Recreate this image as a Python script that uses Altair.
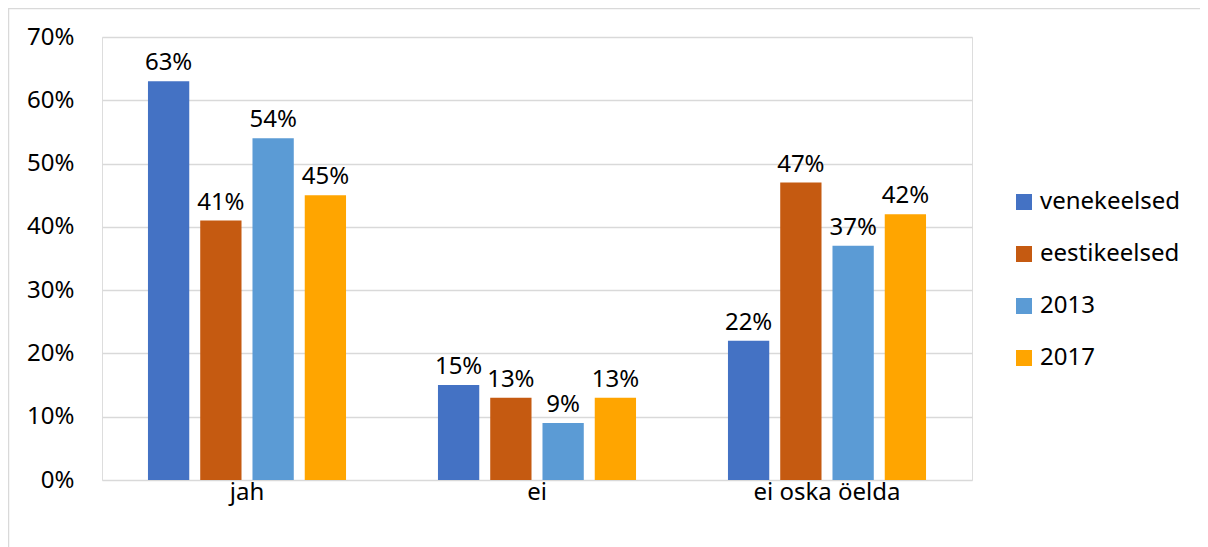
import altair as alt
import pandas as pd

categories = ["jah", "ei", "ei oska öelda"]
series = ["venekeelsed", "eestikeelsed", "2013", "2017"]
venekeelsed = [0.63, 0.15, 0.22]
eestikeelsed = [0.41, 0.13, 0.47]
y2013 = [0.54, 0.09, 0.37]
y2017 = [0.45, 0.13, 0.42]
colors = ["#4472C4", "#C55A11", "#5B9BD5", "#FFA500"]

rows = []
for s, vals in zip(series, [venekeelsed, eestikeelsed, y2013, y2017]):
    for c, v in zip(categories, vals):
        rows.append({"cat": c, "series": s, "value": v})
df = pd.DataFrame(rows)

FONT = "Noto Sans"
FS = 24
W, H = 870, 443

x = alt.X("cat:N", sort=categories, title=None,
          scale=alt.Scale(paddingInner=0.317, paddingOuter=0.1585),
          axis=alt.Axis(labelAngle=0, labelFontSize=FS, labelFont=FONT, labelColor="#000",
                        ticks=False, domain=False, labelPadding=0))
y = alt.Y("value:Q", title=None,
          scale=alt.Scale(domain=[0, 0.7], nice=False),
          axis=alt.Axis(format=".0%", values=[0, .1, .2, .3, .4, .5, .6, .7],
                        labelFontSize=FS, labelFont=FONT, labelColor="#000",
                        ticks=False, domain=False, labelPadding=28,
                        gridColor="#D9D9D9", gridWidth=1.3))
xo = alt.XOffset("series:N", sort=series,
                 scale=alt.Scale(paddingInner=0.21, paddingOuter=0))

bars = alt.Chart(df).mark_bar().encode(
    x=x, y=y, xOffset=xo,
    color=alt.Color("series:N", sort=series,
                    scale=alt.Scale(domain=series, range=colors),
                    legend=alt.Legend(title=None, orient="none", legendX=910, legendY=153,
                                      symbolType="square", symbolSize=256,
                                      symbolStrokeWidth=0, labelFontSize=FS,
                                      labelFont=FONT, labelColor="#000",
                                      rowPadding=28, labelOffset=4)),
)

labels = alt.Chart(df).mark_text(baseline="bottom", dy=-6, fontSize=FS, font=FONT, color="#000").encode(
    x=alt.X("cat:N", sort=categories), y="value:Q", xOffset=alt.XOffset("series:N", sort=series),
    text=alt.Text("value:Q", format=".0%"),
)

border = alt.Chart(pd.DataFrame({"a": [0]})).mark_rect(fill=None, stroke="#D9D9D9", strokeWidth=1.5).encode(
    x=alt.value(-93.5), x2=alt.value(W + 300), y=alt.value(-28.5), y2=alt.value(H + 200),
)

chart = alt.layer(bars, labels, border).properties(
    width=W, height=H,
    padding={"left": 94, "top": 29, "right": 228, "bottom": 67},
    autosize=alt.AutoSizeParams(type="none"),
).configure_view(stroke=None).configure(font=FONT)

chart.save("out.html", embed_options={"renderer": "svg", "actions": False})
